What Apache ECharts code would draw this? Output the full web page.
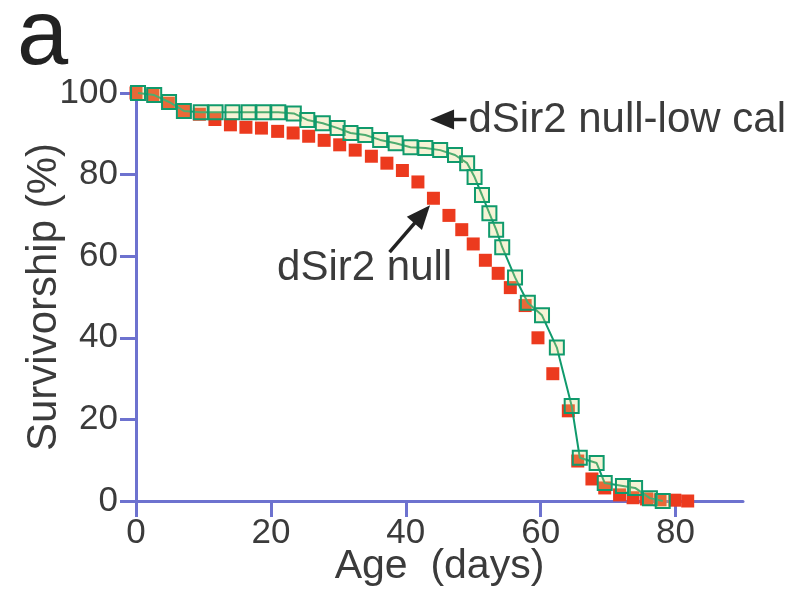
<!DOCTYPE html>
<html>
<head>
<meta charset="utf-8">
<script src="https://cdn.jsdelivr.net/npm/echarts@6/dist/echarts.min.js"></script>
<style>
html,body{margin:0;padding:0;background:#fff;}
#c{width:796px;height:591px;}
</style>
</head>
<body>
<div id="c"></div>
<script>
// ---- data ----
var nullDays = [0,2.5,4.8,7.1,9.4,11.7,14.0,16.3,18.6,21.0,23.3,25.6,27.9,30.2,32.5,34.9,37.2,39.5,41.8,44.1,46.4,48.3,50.0,51.8,53.7,55.5,57.7,59.6,61.8,64.1,65.5,67.6,69.5,71.7,73.7,75.7,77.7,79.9,81.8];
var nullSurv = [100,99.5,97.5,95.5,94.8,93.5,92.2,91.6,91.4,90.6,90.2,89.4,88.4,87.3,86.0,84.5,82.8,81.0,78.2,74.2,70.0,66.5,63.0,59.0,55.8,52.3,47.9,40.0,31.2,22.1,9.8,5.4,3.2,1.5,0.8,0.5,0.3,0.2,0];

var lowCalDays = [0.3,2.7,4.9,7.1,9.6,11.8,14.3,16.7,18.9,21.1,23.4,25.4,27.7,29.9,31.8,34.0,36.2,38.5,40.7,42.9,45.1,47.3,49.1,50.2,51.3,52.4,53.4,54.3,56.2,58.1,60.2,62.4,64.6,65.8,68.3,69.5,72.2,74.0,76.2,78.1];
var lowCalSurv = [100,99.5,97.8,95.6,95.3,95.3,95.3,95.3,95.3,95.3,95.0,93.4,92.6,91.4,90.2,89.7,88.5,87.7,86.7,86.5,86.0,84.8,82.8,79.4,75.0,70.5,66.5,62.2,54.8,48.6,45.5,37.6,23.3,10.6,9.3,4.4,3.7,3.2,0.7,0];

var xTicks = [0,20,40,60,80];

var labelLowCal = 'dSir2 null-low cal';
var labelNull = 'dSir2 null';
var xName = 'Age  (days)';
var yName = 'Survivorship (%)';

function pairs(xs, ys){ return xs.map(function(x,i){ return [x, ys[i]]; }); }

var axisColor = '#6d72cf';
var textColor = '#3b3b3b';
var font = 'Liberation Sans, Arial, Helvetica, sans-serif';

var chart = echarts.init(document.getElementById('c'), null, {renderer:'canvas'});
chart.setOption({
  animation:false,
  backgroundColor:'#fff',
  title:{text:'a', left:12, top:-12, textStyle:{fontSize:92, fontWeight:'normal', color:'#222', fontFamily:font}},
  grid:{left:136, right:53, top:93, bottom:90, containLabel:false, outerBoundsMode:'none'},
  xAxis:{
    type:'value', min:0, max:90,
    axisLine:{lineStyle:{color:axisColor, width:3}},
    axisTick:{show:true, length:16, lineStyle:{color:axisColor, width:3}, customValues:xTicks},
    axisLabel:{fontSize:35, color:textColor, fontFamily:font, margin:15, customValues:xTicks},
    splitLine:{show:false}
  },
  yAxis:{
    type:'value', min:0, max:100, interval:20,
    axisLine:{show:true, lineStyle:{color:axisColor, width:3}},
    axisTick:{show:true, length:16, lineStyle:{color:axisColor, width:3}},
    axisLabel:{fontSize:35, color:textColor, fontFamily:font, margin:18},
    splitLine:{show:false}
  },
  series:[
    {
      name:labelNull, type:'line', data:pairs(nullDays, nullSurv),
      symbol:'rect', symbolSize:13,
      lineStyle:{width:0, opacity:0},
      itemStyle:{color:'#ec3a1e'},
      z:2
    },
    {
      name:labelLowCal, type:'line', data:pairs(lowCalDays, lowCalSurv),
      symbol:'rect', symbolSize:14,
      lineStyle:{width:2, color:'#109a6c'},
      itemStyle:{color:'rgba(225,215,120,0.3)', borderColor:'#109a6c', borderWidth:2},
      z:3
    }
  ]
});

// ---- annotations positioned relative to the axes ----
var noteLowCal = {tip:[43.6, 93.5], tail:[49.0, 93.5], text:[49.3, 93.3]};
var noteNull = {tip:[43.6, 72.5], tail:[37.6, 61.0], text:[33.9, 57.0]};

function px(p){ return chart.convertToPixel({gridIndex:0}, p); }
function arrow(tipD, tailD, headLen, headHalf){
  var t = px(tipD), s = px(tailD);
  var dx = t[0]-s[0], dy = t[1]-s[1];
  var L = Math.sqrt(dx*dx+dy*dy); var ux = dx/L, uy = dy/L;
  var bx = t[0]-ux*headLen, by = t[1]-uy*headLen;
  var nx = -uy, ny = ux;
  return [
    {type:'line', shape:{x1:s[0], y1:s[1], x2:bx+ux*2, y2:by+uy*2}, style:{stroke:'#222', lineWidth:3.5}},
    {type:'polygon', shape:{points:[[t[0],t[1]],[bx+nx*headHalf, by+ny*headHalf],[bx-nx*headHalf, by-ny*headHalf]]}, style:{fill:'#222'}}
  ];
}
var els = [];
els = els.concat(arrow(noteLowCal.tip, noteLowCal.tail, 24, 10));
els = els.concat(arrow(noteNull.tip, noteNull.tail, 24, 10));
var p1 = px(noteLowCal.text), p2 = px(noteNull.text);
els.push({type:'text', x:p1[0], y:p1[1], style:{text:labelLowCal, fontSize:42, fill:textColor, fontFamily:font, align:'left', verticalAlign:'middle'}});
els.push({type:'text', x:p2[0], y:p2[1], style:{text:labelNull, fontSize:42, fill:textColor, fontFamily:font, align:'center', verticalAlign:'middle'}});
// axis names
var origin = px([0,0]);
var xMid = px([45,0]);
var yMid = px([0,50]);
els.push({type:'text', x:xMid[0], y:origin[1]+66, style:{text:xName, fontSize:41, fill:textColor, fontFamily:font, align:'center', verticalAlign:'middle'}});
els.push({type:'text', x:origin[0]-92, y:yMid[1], rotation:Math.PI/2, style:{text:yName, fontSize:42, fill:textColor, fontFamily:font, align:'center', verticalAlign:'middle'}});
chart.setOption({graphic:{elements:els}});
</script>
</body>
</html>
